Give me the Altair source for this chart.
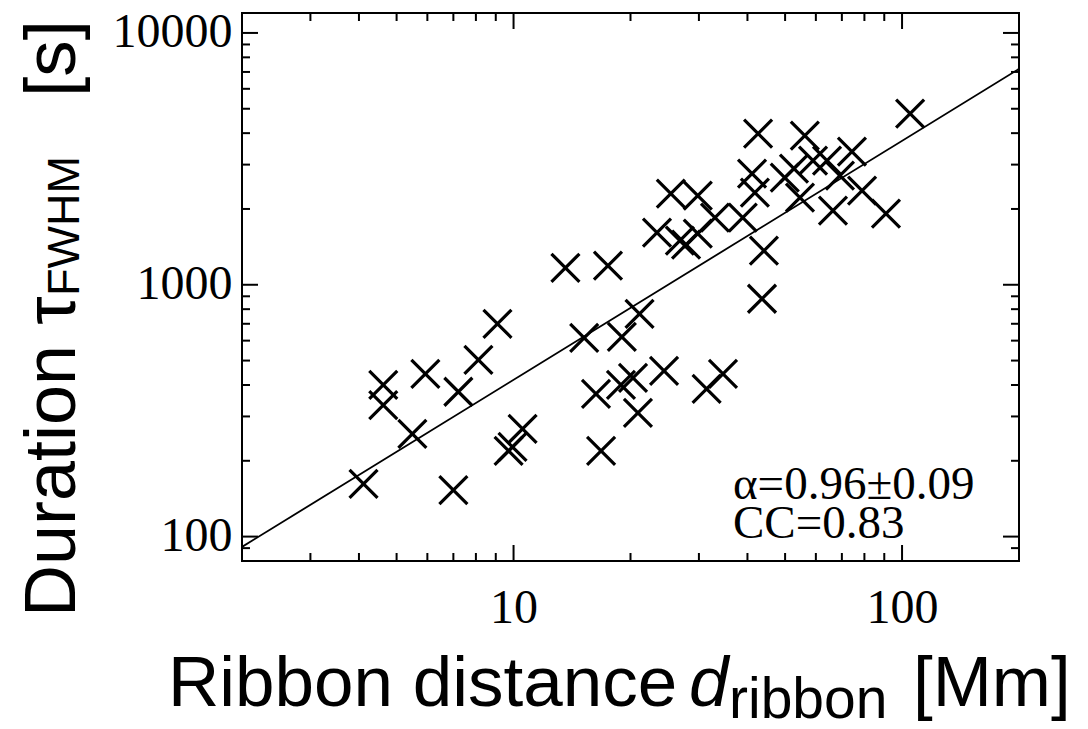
import altair as alt
import pandas as pd

# Scatter data: ribbon distance [Mm] and duration tau_FWHM [s]
ribbon_distance = [4.11, 4.62, 4.62, 5.49, 5.93, 7.21, 8.12, 9.09, 7.00, 9.71,
                   9.94, 10.55, 13.6, 17.5, 15.2, 16.3, 16.8, 19.0, 18.9, 20.3,
                   24.4, 20.9, 21.1, 31.4, 34.6, 23.4, 26.8, 27.8, 29.8, 25.4,
                   29.8, 33.0, 38.9, 42.6, 41.1, 41.8, 44.1, 43.6, 49.9, 52.7,
                   54.6, 56.2, 59.0, 64.1, 69.2, 74.3, 78.9, 66.4, 90.9, 104.9]
duration = [162, 400, 333, 256, 443, 376, 503, 700, 153, 219,
            227, 268, 1168, 1190, 616, 369, 219, 621, 400, 427,
            455, 310, 767, 386, 443, 1610, 1496, 1443, 1595, 2300,
            2258, 1847, 1847, 3985, 2763, 2322, 1365, 880, 2663, 2892,
            2218, 3912, 3112, 3112, 2713, 3380, 2364, 1969, 1916, 4786]

# Power-law fit line end points
fit_x = [2, 200]
fit_y = [91, 7200]

# Axis ticks
x_major = [10, 100]
x_minor = [3, 4, 5, 6, 7, 8, 9, 20, 30, 40, 50, 60, 70, 80, 90]
y_major = [100, 1000, 10000]
y_minor = [90, 200, 300, 400, 500, 600, 700, 800, 900,
           2000, 3000, 4000, 5000, 6000, 7000, 8000, 9000]

alpha_text = "α=0.96±0.09"
cc_text = "CC=0.83"

W, H = 777, 548
SERIF = "Liberation Serif"
SANS = "Liberation Sans"

xscale = alt.Scale(type="log", domain=[2, 200], nice=False)
yscale = alt.Scale(type="log", domain=[80, 12000], nice=False)
xaxis = alt.Axis(values=x_major, format="d", labelFont=SERIF, labelFontSize=48,
                 labelColor="black", ticks=False, tickSize=0, domain=False,
                 grid=False, labelPadding=23, title=None, labelFlush=False)
yaxis = alt.Axis(values=y_major, format="d", labelFont=SERIF, labelFontSize=48,
                 labelColor="black", ticks=False, tickSize=0, domain=False,
                 grid=False, labelPadding=10, title=None, labelFlush=False)

scatter_df = pd.DataFrame({"x": ribbon_distance, "y": duration})
fit_df = pd.DataFrame({"x": fit_x, "y": fit_y})

X = alt.X("x:Q", scale=xscale, axis=xaxis)
Y = alt.Y("y:Q", scale=yscale, axis=yaxis)

xshape = "M-1,-1L1,1M1,-1L-1,1"
points = alt.Chart(scatter_df).mark_point(
    shape=xshape, filled=False, size=784, strokeWidth=3.2, color="black", opacity=1
).encode(x=X, y=Y)

line = alt.Chart(fit_df).mark_line(color="black", strokeWidth=1.8, clip=True).encode(x=X, y=Y)

def xticks(vals, length):
    df = pd.DataFrame({"x": vals})
    bottom = alt.Chart(df).mark_rule(color="black", strokeWidth=2).encode(
        x=X, y=alt.value(H), y2=alt.value(H - length))
    top = alt.Chart(df).mark_rule(color="black", strokeWidth=2).encode(
        x=X, y=alt.value(0), y2=alt.value(length))
    return [bottom, top]

def yticks(vals, length):
    df = pd.DataFrame({"y": vals})
    left = alt.Chart(df).mark_rule(color="black", strokeWidth=2).encode(
        y=Y, x=alt.value(0), x2=alt.value(length))
    right = alt.Chart(df).mark_rule(color="black", strokeWidth=2).encode(
        y=Y, x=alt.value(W), x2=alt.value(W - length))
    return [left, right]

one = alt.Data(values=[{}])

def label(text, x, y, size, font, angle=0, style="normal", baseline="alphabetic"):
    return alt.Chart(one).mark_text(
        text=text, align="left", baseline=baseline, font=font, fontSize=size,
        fontStyle=style, angle=angle, color="black"
    ).encode(x=alt.value(x), y=alt.value(y))

annot = [
    label(alpha_text, 491, 486, 47, SERIF),
    label(cc_text, 491, 525, 47, SERIF),
]

xtitle = [
    label("Ribbon distance", -74, 693, 71, SANS),
    label("d", 447, 693, 71, SANS, style="italic"),
    label("ribbon", 487, 705, 57, SANS),
    label("[Mm]", 671, 693, 71, SANS),
]

ytitle = [
    label("Duration τ", -167, 604, 72, SANS, angle=270),
    label("FWHM", -163, 283, 45, SANS, angle=270),
    label("[s]", -167, 84, 73, SANS, angle=270),
]

layers = [line, points] + xticks(x_major, 16) + xticks(x_minor, 8) \
    + yticks(y_major, 16) + yticks(y_minor, 8) + annot + xtitle + ytitle

chart = alt.layer(*layers).properties(
    width=W, height=H,
    autosize=alt.AutoSizeParams(type="none"),
    padding={"left": 234, "top": 5, "right": 61, "bottom": 160},
).configure_view(stroke="black", strokeWidth=2)

chart.save("out.html", embed_options={"renderer": "svg", "actions": False})
